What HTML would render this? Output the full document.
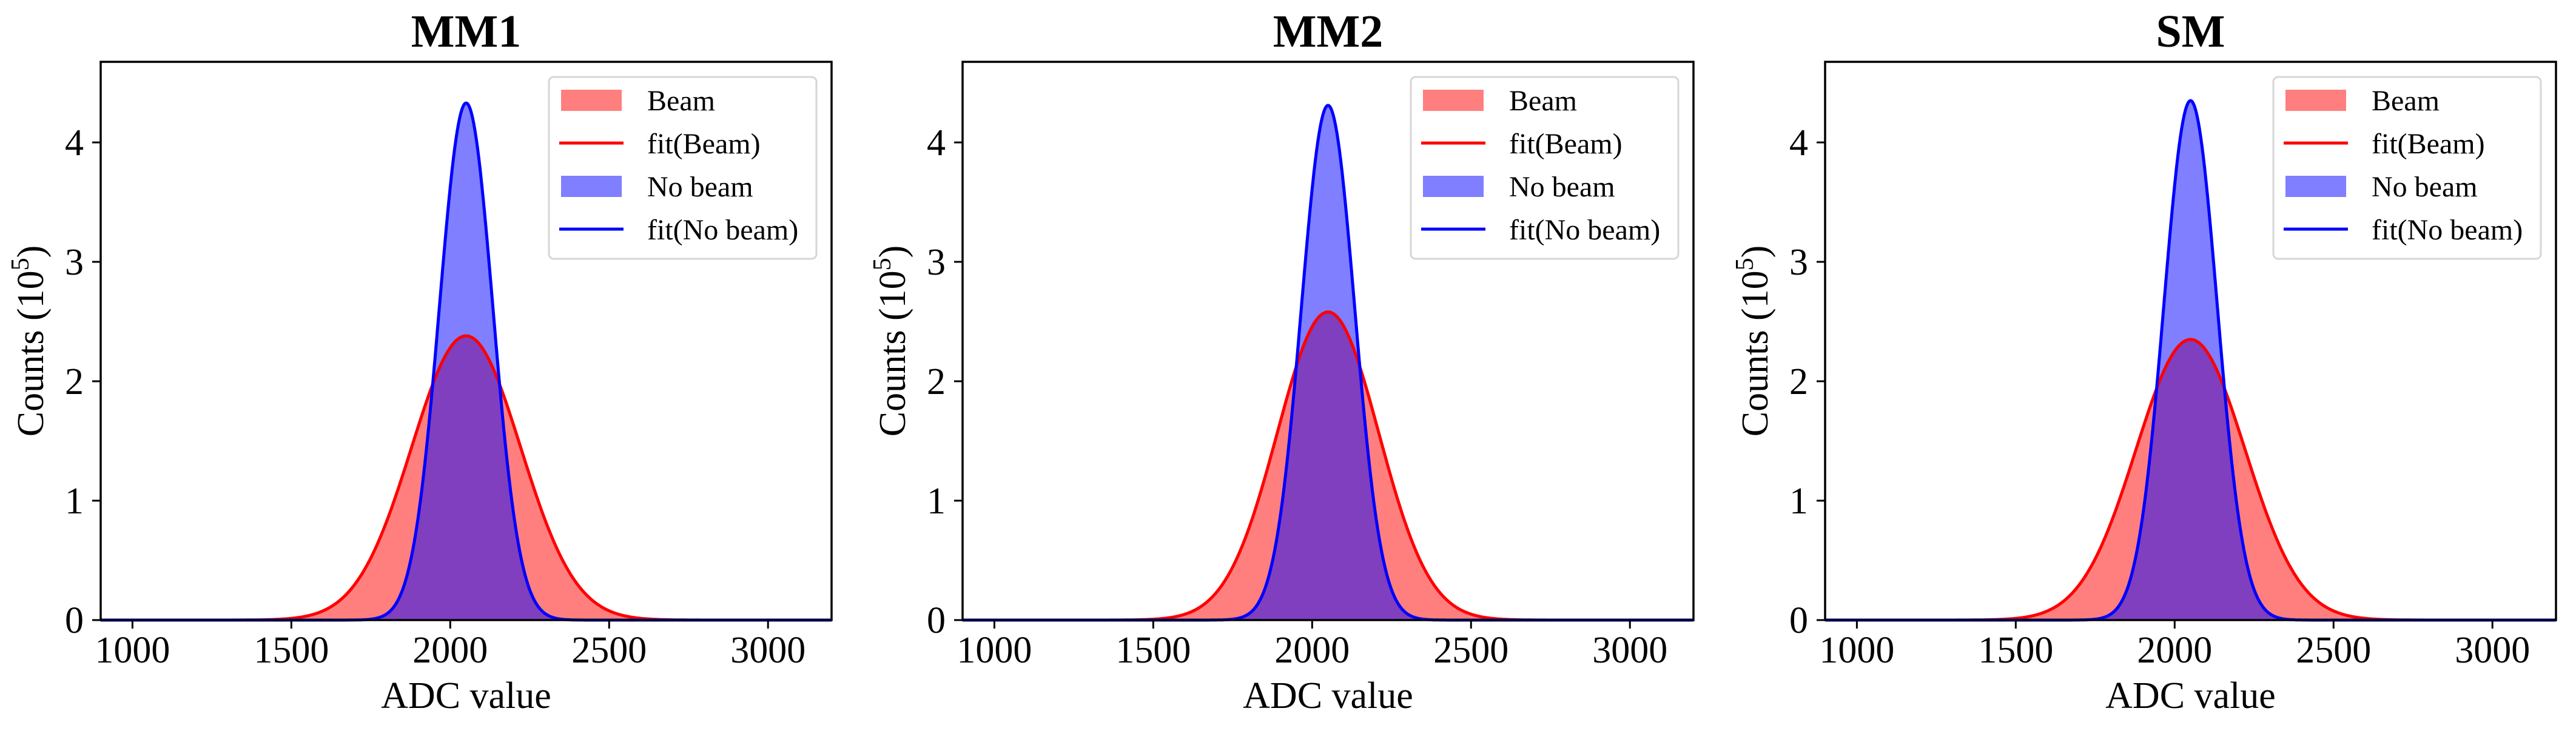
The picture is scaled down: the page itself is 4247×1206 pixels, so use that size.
<!DOCTYPE html>
<html><head><meta charset="utf-8"><style>
html,body{margin:0;padding:0;background:#fff}
svg{display:block}
text{font-family:"Liberation Serif",serif;fill:#000}
</style></head><body>
<svg id="chart" width="4247" height="1206" viewBox="0 0 4247 1206" xmlns="http://www.w3.org/2000/svg"></svg>
<script>
const panelTitles = ["MM1", "MM2", "SM"];
const beamAmp = [2.38, 2.58, 2.35];
const beamMean = [2050, 2050, 2050];
const beamSigma = [172, 160, 172];
const noBeamAmp = [4.33, 4.31, 4.35];
const noBeamMean = [2050, 2050, 2050];
const noBeamSigma = [84, 84, 84];
const xTicks = [1000, 1500, 2000, 2500, 3000];
const yTicks = [0, 1, 2, 3, 4];
const legendLabels = ["Beam", "fit(Beam)", "No beam", "fit(No beam)"];

const NS = "http://www.w3.org/2000/svg";
const svg = document.getElementById("chart");
function mk(tag, attrs, parent){const e=document.createElementNS(NS,tag);for(const k in attrs)e.setAttribute(k,attrs[k]);(parent||svg).appendChild(e);return e;}

const panelLeft = [166, 1587, 3009];
const W = 1205, TOP = 102, BOT = 1023;
const XMIN = 900, XMAX = 3200, YMAX = 4.675;

function gauss(x, a, m, s){return a*Math.exp(-0.5*((x-m)/s)**2);}

panelTitles.forEach((title, p) => {
  const L = panelLeft[p];
  const xs = v => L + (v - XMIN) / (XMAX - XMIN) * W;
  const ys = v => BOT - v / YMAX * (BOT - TOP);
  const g = mk("g", {});
  
  

  function curvePts(a, m, s){
    const pts = [];
    for (let x = XMIN; x <= XMAX; x += 2) pts.push([xs(x), ys(gauss(x, a, m, s))]);
    return pts;
  }
  const bp = curvePts(beamAmp[p], beamMean[p], beamSigma[p]);
  const np = curvePts(noBeamAmp[p], noBeamMean[p], noBeamSigma[p]);
  const area = pts => "M" + xs(XMIN) + "," + BOT + " L" + pts.map(q => q[0].toFixed(1) + "," + q[1].toFixed(1)).join(" L") + " L" + xs(XMAX) + "," + BOT + " Z";
  const line = pts => "M" + pts.map(q => q[0].toFixed(1) + "," + q[1].toFixed(1)).join(" L");

  const hb = mk("path", {d: area(bp), fill: "#ff0000", "fill-opacity": 0.5}, g);
  
  
  const hn = mk("path", {d: area(np), fill: "#0000ff", "fill-opacity": 0.5}, g);
  
  
  const fb = mk("path", {d: line(bp), fill: "none", stroke: "#ff0000", "stroke-width": 5}, g);
  
  
  const fn = mk("path", {d: line(np), fill: "none", stroke: "#0000ff", "stroke-width": 5}, g);
  
  

  const frame = mk("rect", {x: L, y: TOP, width: W, height: BOT - TOP, fill: "none", stroke: "#000", "stroke-width": 3.5}, g);
  
  

  xTicks.forEach(t => {
    const x = xs(t);
    const tk = mk("line", {x1: x, x2: x, y1: BOT, y2: BOT + 14, stroke: "#000", "stroke-width": 3}, g);
    
    
    const tl = mk("text", {x: x, y: BOT + 70, "font-size": 62, "text-anchor": "middle"}, g);
    tl.textContent = t;
    
    
  });
  yTicks.forEach(t => {
    const y = ys(t);
    const tk = mk("line", {x1: L - 14, x2: L, y1: y, y2: y, stroke: "#000", "stroke-width": 3}, g);
    
    
    const tl = mk("text", {x: L - 28, y: y + 21, "font-size": 62, "text-anchor": "end"}, g);
    tl.textContent = t;
    
    
  });

  const xl = mk("text", {x: L + W / 2, y: 1168, "font-size": 62, "text-anchor": "middle"}, g);
  xl.textContent = "ADC value";
  
  

  const yl = mk("text", {x: 0, y: 0, "font-size": 62, "text-anchor": "middle", transform: "translate(" + (L - 95) + "," + ((TOP + BOT) / 2) + ") rotate(-90)"}, g);
  
  
  yl.appendChild(document.createTextNode("Counts (10"));
  const sup = mk("tspan", {"font-size": 42, dy: -24}, yl);
  sup.textContent = "5";
  const cl = mk("tspan", {dy: 24}, yl);
  cl.textContent = ")";

  const tt = mk("text", {x: L + W / 2, y: 77, "font-size": 76, "font-weight": "bold", "text-anchor": "middle"}, g);
  tt.textContent = title;
  
  

  // legend
  const lx = L + W - 466, ly = 127;
  const lg = mk("g", {}, g);
  
  
  mk("rect", {x: lx, y: ly, width: 441, height: 300, rx: 8, fill: "#fff", "fill-opacity": 0.8, stroke: "#d6d6d6", "stroke-width": 3}, lg);
  const rowY = [165, 236, 307, 378];
  legendLabels.forEach((lab, i) => {
    const cy = rowY[i];
    let sw;
    if (i === 0 || i === 2) {
      sw = mk("rect", {x: lx + 20, y: cy - 17, width: 100, height: 35, fill: i === 0 ? "#ff0000" : "#0000ff", "fill-opacity": 0.5}, lg);
    } else {
      sw = mk("line", {x1: lx + 17, x2: lx + 123, y1: cy, y2: cy, stroke: i === 1 ? "#ff0000" : "#0000ff", "stroke-width": 5}, lg);
    }
    
    
    const t = mk("text", {x: lx + 162, y: cy + 17, "font-size": 48}, lg);
    t.textContent = lab;
    
    
  });
});
</script>
</body></html>
